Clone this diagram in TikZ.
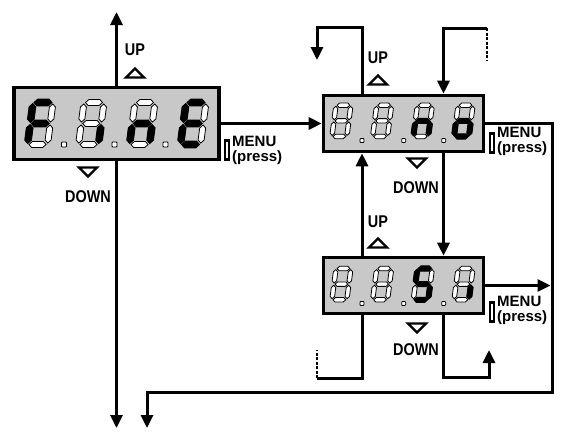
\documentclass[tikz,border=0pt]{standalone}
\usepackage{fontspec}
\setmainfont{Liberation Sans}
\newfontfamily\narrowfont[FakeStretch=0.85]{Liberation Sans}
\usetikzlibrary{arrows.meta,calc}
\definecolor{lcdgray}{HTML}{C8C8C8}
\tikzset{
  display/.style={rectangle, draw=black, fill=lcdgray, line width=3.6pt, inner sep=0pt},
  flow/.style={-{Triangle[length=13pt,width=12pt]}, line width=3pt},
  wire/.style={line width=3pt},
  dashwire/.style={line width=2.6pt, dash pattern=on 3pt off 1.5pt},
  keylabel/.style={font=\narrowfont\bfseries\fontsize{17}{17}\selectfont, inner sep=0pt},
  menulabel/.style={font=\bfseries\fontsize{15}{14.5}\selectfont, align=left, inner sep=0pt, anchor=north west},
  button/.style={rectangle, draw=black, fill=white, line width=2.2pt, minimum width=4pt, minimum height=19pt, inner sep=0pt},
  keytri/.style={draw=black, fill=white, line width=2.4pt, line join=miter},
  segoff/.style={fill=white, draw=black, line width=0.8pt},
  segon/.style={fill=black, draw=black, line width=1.6pt},
  dpoint/.style={fill=white, draw=black, line width=0.8pt, rounded corners=0.8pt}
}
% seven-segment digit, local units: width 20, height 42
\newcommand{\hseg}[2]{\path[#1, shift={(0,#2)}] (1.5,0) -- (4.5,-3) -- (15.5,-3) -- (18.5,0) -- (15.5,3) -- (4.5,3) -- cycle;}
\newcommand{\vseg}[3]{\path[#1, shift={(#2,#3)}] (0,0) -- (3,3) -- (3,15) -- (0,18) -- (-3,15) -- (-3,3) -- cycle;}
\newcommand{\sevA}[1]{\hseg{#1}{0}}
\newcommand{\sevB}[1]{\vseg{#1}{20}{1.5}}
\newcommand{\sevC}[1]{\vseg{#1}{20}{22.5}}
\newcommand{\sevD}[1]{\hseg{#1}{42}}
\newcommand{\sevE}[1]{\vseg{#1}{0}{22.5}}
\newcommand{\sevF}[1]{\vseg{#1}{0}{1.5}}
\newcommand{\sevG}[1]{\hseg{#1}{21}}
\newcommand{\sevX}[1]{}
\newcommand{\sevdigit}[4]{%
  \begin{scope}[shift={(#1,#2)}, scale=#3, xslant=0.13]
    \foreach \s in {A,B,C,D,E,F,G} {\csname sev\s\endcsname{segoff}}
    \foreach \s in {#4} {\csname sev\s\endcsname{segon}}
  \end{scope}}
\newcommand{\dpt}[3]{\draw[dpoint] (#1-#3/2,#2-#3/2) rectangle (#1+#3/2,#2+#3/2);}
\newcommand{\uptri}[2]{\draw[keytri] (#1-9,#2+4.5) -- (#1+9,#2+4.5) -- (#1,#2-4.5) -- cycle;}
\newcommand{\downtri}[2]{\draw[keytri] (#1-9,#2-4.5) -- (#1+9,#2-4.5) -- (#1,#2+4.5) -- cycle;}

\begin{document}
\begin{tikzpicture}[x=1pt, y=-1pt]
\useasboundingbox (0,0) rectangle (568,440);
% displays
\node[display, minimum width=205pt, minimum height=72pt] (fine) at (116.5,123.5) {};
\node[display, minimum width=160pt, minimum height=56pt] (no) at (403.5,123.5) {};
\node[display, minimum width=160pt, minimum height=56pt] (si) at (403.5,285.5) {};
% F.i.n.E
\sevdigit{33}{102.5}{1}{A,F,G,E}
\sevdigit{84}{102.5}{1}{C}
\sevdigit{135}{102.5}{1}{E,G,C}
\sevdigit{186}{102.5}{1}{A,F,G,E,D}
\dpt{64}{144.5}{5} \dpt{114.5}{144.5}{5} \dpt{165.5}{144.5}{5}
% _._.n.o
\sevdigit{336}{105.2}{0.745}{X}
\sevdigit{376.7}{105.2}{0.745}{X}
\sevdigit{417.4}{105.2}{0.745}{E,G,C}
\sevdigit{458.1}{105.2}{0.745}{C,D,E,G}
\dpt{362}{140.5}{4} \dpt{403.7}{140.5}{4} \dpt{443.7}{140.5}{4}
% _._.S.i
\sevdigit{336}{268.5}{0.745}{X}
\sevdigit{376.7}{268.5}{0.745}{X}
\sevdigit{417.4}{268.5}{0.745}{A,F,G,C,D}
\sevdigit{458.1}{268.5}{0.745}{C}
\dpt{362}{303.5}{4} \dpt{403.7}{303.5}{4} \dpt{443.7}{303.5}{4}
% keys
\node[keylabel] (upA) at (135,50) {UP};
\uptri{135}{73}
\downtri{88}{172}
\node[keylabel] (downA) at (88,197) {DOWN};
\node[keylabel] (upB) at (378,58) {UP};
\uptri{378}{80}
\downtri{417}{163}
\node[keylabel] (downB) at (416,188) {DOWN};
\node[keylabel] (upC) at (378,222) {UP};
\uptri{378}{243}
\downtri{417}{328}
\node[keylabel] (downC) at (416,350) {DOWN};
% menu buttons
\node[button] (btnA) at (227,150) {};
\node[menulabel] (menuA) at (232,136) {MENU\\(press)};
\node[button] (btnB) at (492,143) {};
\node[menulabel] (menuB) at (497,127) {MENU\\(press)};
\node[button] (btnC) at (492,312) {};
\node[menulabel] (menuC) at (497,296) {MENU\\(press)};
% connectors
\coordinate (topA) at (116.5,12);
\coordinate (botA) at (116.5,428);
\coordinate (retUp) at (317,60);
\coordinate (entB) at (487,28);
\coordinate (cornerR) at (552,392);
\coordinate (backA) at (147,428);
\coordinate (exitL) at (317,378);
\coordinate (retC) at (489,350);
\draw[flow] (fine.north) -- (topA);
\draw[flow] (fine.south) -- (botA);
\draw[flow] (fine.east) -- (no.west);
\draw[flow] ($(no.north)+(-41.5,0)$) -- ++(0,-66) -| (retUp);
\draw[dashwire] (entB) -- ++(0,32);
\draw[flow] (entB) -| ($(no.north)+(40,0)$);
\draw[flow] ($(no.south)+(40,0)$) -- ($(si.north)+(40,0)$);
\draw[flow] ($(si.north)+(-41.5,0)$) -- ($(no.south)+(-41.5,0)$);
\draw[flow] (no.east) -| (cornerR) -| (backA);
\draw[flow] (si.east) -- ($(si.east -| cornerR)+(-1.5,0)$);
\draw[wire] ($(si.south)+(-41.5,0)$) |- (exitL);
\draw[dashwire] (exitL) -- ++(0,-28);
\draw[flow] ($(si.south)+(40,0)$) -- ++(0,62) -| (retC);
\end{tikzpicture}
\end{document}
